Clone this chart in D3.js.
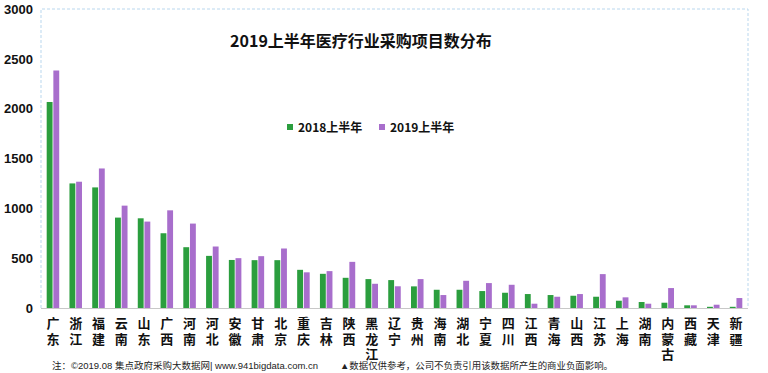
<!DOCTYPE html>
<html>
<head>
<meta charset="utf-8">
<script src="https://cdn.jsdelivr.net/npm/d3@7"></script>
<style>
  body { margin: 0; background: #fff; }
  text { font-family: "Liberation Sans", Arial, "Noto Sans CJK SC", sans-serif; }
  .cjk { font-family: "Noto Sans CJK SC", sans-serif; }
</style>
</head>
<body>
<script>
// provinces, in the order of the chart
var provinces = ["广东", "浙江", "福建", "云南", "山东", "广西", "河南", "河北", "安徽", "甘肃",
    "北京", "重庆", "吉林", "陕西", "黑龙江", "辽宁", "贵州", "海南", "湖北", "宁夏",
    "四川", "江西", "青海", "山西", "江苏", "上海", "湖南", "内蒙古", "西藏", "天津", "新疆"];
var seriesNames = ["2018上半年", "2019上半年"];
var values2018 = [2067, 1250, 1210, 907, 900, 750, 610, 523, 482, 480,
    480, 383, 343, 303, 290, 280, 217, 183, 183, 170,
    153, 140, 130, 123, 113, 73, 60, 53, 27, 12, 12];
var values2019 = [2383, 1267, 1400, 1027, 867, 980, 847, 617, 500, 520,
    597, 358, 370, 463, 243, 218, 290, 130, 273, 250,
    233, 43, 113, 140, 340, 107, 43, 200, 27, 33, 100];
var yTicks = [0, 500, 1000, 1500, 2000, 2500, 3000];

var colors = ["#2b9e3e", "#a86ecc"];

var width = 768, height = 373;
var plot = {left: 41, right: 748, top: 9, bottom: 308};

var svg = d3.select("body").append("svg")
    .attr("width", width)
    .attr("height", height);

svg.append("rect").attr("width", width).attr("height", height).attr("fill", "#fff");

// scales
var x0 = d3.scaleBand()
    .domain(provinces)
    .range([plot.left, plot.right])
    .paddingInner(0.45)
    .paddingOuter(0.25);

var x1 = d3.scaleBand()
    .domain(seriesNames)
    .range([0, x0.bandwidth()])
    .paddingInner(0.12);

var y = d3.scaleLinear()
    .domain([0, 3000])
    .range([plot.bottom, plot.top]);

// dashed plot border (top, left, right)
svg.append("path")
    .attr("d", "M" + plot.left + "," + plot.bottom + "V" + plot.top + "H" + plot.right + "V" + plot.bottom)
    .attr("fill", "none")
    .attr("stroke", "#b9d7ee")
    .attr("stroke-width", 1)
    .attr("stroke-dasharray", "3,2");

// y axis labels
var yAxis = d3.axisLeft(y).tickValues(yTicks).tickFormat(d3.format("d")).tickSize(0).tickPadding(8);
var yg = svg.append("g")
    .attr("transform", "translate(" + plot.left + ",0)")
    .call(yAxis);
yg.select(".domain").remove();
yg.selectAll("text")
    .attr("font-size", 13)
    .attr("font-weight", "bold")
    .attr("fill", "#111")
    .style("font-family", "'Liberation Sans', Arial, sans-serif");

// bars
var rows = provinces.map(function(p, i) {
    return {name: p, vals: [values2018[i], values2019[i]]};
});

var groups = svg.selectAll(".grp")
    .data(rows)
    .enter().append("g")
    .attr("class", "grp")
    .attr("transform", function(d) { return "translate(" + x0(d.name) + ",0)"; });

groups.selectAll("rect")
    .data(function(d) {
        return d.vals.map(function(v, k) { return {key: seriesNames[k], value: v, k: k}; });
    })
    .enter().append("rect")
    .attr("x", function(d) { return x1(d.key); })
    .attr("y", function(d) { return y(d.value); })
    .attr("width", x1.bandwidth())
    .attr("height", function(d) { return y(0) - y(d.value); })
    .attr("fill", function(d) { return colors[d.k]; });

// bottom axis line
svg.append("line")
    .attr("x1", plot.left).attr("x2", plot.right)
    .attr("y1", plot.bottom + 0.5).attr("y2", plot.bottom + 0.5)
    .attr("stroke", "#c8c8c8");

// vertical category labels, one text per character
// (latin font first so the line box stays compact, CJK glyphs fall back)
provinces.forEach(function(p) {
    var cx = x0(p) + x0.bandwidth() / 2;
    p.split("").forEach(function(ch, j) {
        svg.append("text")
            .attr("x", cx)
            .attr("y", 328 + j * 15.5)
            .attr("text-anchor", "middle")
            .attr("font-size", 13)
            .attr("font-weight", "bold")
            .attr("fill", "#111")
            .style("font-family", "'Liberation Sans', 'Noto Sans CJK SC', sans-serif")
            .text(ch);
    });
});

// title
svg.append("text")
    .attr("class", "cjk")
    .attr("x", 361)
    .attr("y", 47)
    .attr("text-anchor", "middle")
    .attr("font-size", 16)
    .attr("font-weight", "bold")
    .attr("fill", "#111")
    .text("2019上半年医疗行业采购项目数分布");

// legend
var legendX = [287, 379];
seriesNames.forEach(function(s, k) {
    svg.append("rect")
        .attr("x", legendX[k]).attr("y", 124)
        .attr("width", 6).attr("height", 6)
        .attr("fill", colors[k]);
    svg.append("text")
        .attr("class", "cjk")
        .attr("x", legendX[k] + 11)
        .attr("y", 132)
        .attr("font-size", 12)
        .attr("font-weight", "bold")
        .attr("fill", "#111")
        .text(s);
});

// footnote
var foot = [
    {x: 52, len: 266, txt: "注：©2019.08 集点政府采购大数据网| www.941bigdata.com.cn"},
    {x: 340, len: 273, txt: "▲数据仅供参考，公司不负责引用该数据所产生的商业负面影响。"}
];
foot.forEach(function(f) {
    svg.append("text")
        .attr("x", f.x).attr("y", 369)
        .attr("font-size", 9)
        .attr("fill", "#222")
        .attr("textLength", f.len)
        .attr("lengthAdjust", "spacingAndGlyphs")
        .style("font-family", "'Liberation Sans', 'Noto Sans CJK SC', sans-serif")
        .text(f.txt);
});
</script>
</body>
</html>
